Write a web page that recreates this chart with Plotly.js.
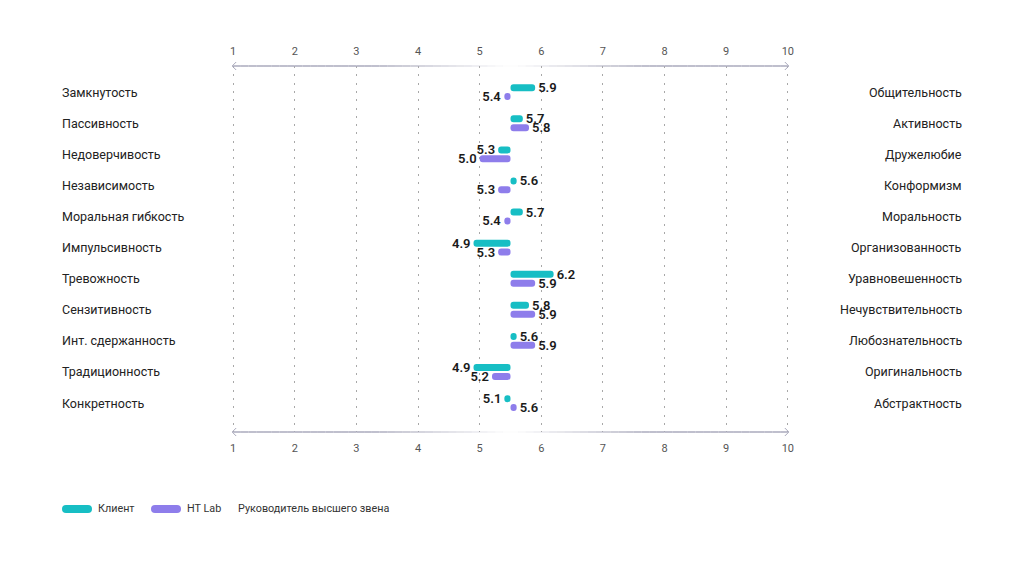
<!DOCTYPE html>
<html><head><meta charset="utf-8">
<script src="https://cdn.plot.ly/plotly-3.0.1.min.js"></script>
<style>html,body{margin:0;padding:0;background:#fff}#chart{width:1024px;height:575px}</style>
</head><body><div id="chart"></div>
<script>
const leftLabels = ["Замкнутость","Пассивность","Недоверчивость","Независимость","Моральная гибкость","Импульсивность","Тревожность","Сензитивность","Инт. сдержанность","Традиционность","Конкретность"];
const rightLabels = ["Общительность","Активность","Дружелюбие","Конформизм","Моральность","Организованность","Уравновешенность","Нечувствительность","Любознательность","Оригинальность","Абстрактность"];
// bar ends as drawn in the reference
const clientValues = [5.9,5.7,5.3,5.6,5.7,4.9,6.2,5.8,5.6,4.9,5.4];
const htlabValues  = [5.4,5.8,5.0,5.3,5.4,5.3,5.9,5.9,5.9,5.2,5.6];
// value labels as printed in the reference
const clientLabels = ["5.9","5.7","5.3","5.6","5.7","4.9","6.2","5.8","5.6","4.9","5.1"];
const htlabLabels  = ["5.4","5.8","5.0","5.3","5.4","5.3","5.9","5.9","5.9","5.2","5.6"];
const scaleTicks = [1,2,3,4,5,6,7,8,9,10];
const midPoint = 5.5;
const legendNames = ["Клиент","HT Lab","Руководитель высшего звена"];

const TEAL = '#17BEC4', PURPLE = '#8E7DEB';
const M = {l:227, r:230, t:66, b:143};
const W = 1024 - M.l - M.r, H = 575 - M.t - M.b;
const pxX = p => (p - M.l) / W;
const pxY = p => (575 - M.b - p) / H;

function barTrace(vals, labels, color, offset, name){
  return {
    type:'bar', orientation:'h', name:name, showlegend:false,
    y: leftLabels, x: vals.map(v => v - midPoint), base: midPoint,
    offset: offset, width: 0.225,
    marker:{color:color, cornerradius:4, line:{width:0}},
    text: labels, textposition:'outside',
    constraintext:'none', cliponaxis:false,
    textfont:{family:'Roboto', size:13, color:'#1a1a1a', weight:600},
    hoverinfo:'skip'
  };
}
const traces = [
  barTrace(clientValues, clientLabels, TEAL, -0.255, legendNames[0]),
  barTrace(htlabValues, htlabLabels, PURPLE, 0.03, legendNames[1]),
  {type:'scatter', x:[null], y:[null], xaxis:'x2', showlegend:false, hoverinfo:'skip'}
];

const shapes = [];
const step = 0.125;
for (let a = scaleTicks[0]; a < scaleTicks[scaleTicks.length-1] - 1e-9; a += step) {
  const m = a + step/2;
  const op = Math.min(1, Math.abs(m - midPoint) / 2.2);
  [1, 0].forEach(yy => shapes.push({type:'line', xref:'x', yref:'paper', x0:a, x1:a+step, y0:yy, y1:yy,
    line:{color:'rgba(170,170,188,'+op.toFixed(3)+')', width:1.5}, layer:'above'}));
}
[1,0].forEach(yy => {
  shapes.push({type:'path', xref:'x', yref:'paper', xsizemode:'pixel', ysizemode:'pixel', xanchor:scaleTicks[0], yanchor:yy,
    path:'M 3,4 L -1,0 L 3,-4', line:{color:'#aaaabc', width:1}});
  shapes.push({type:'path', xref:'x', yref:'paper', xsizemode:'pixel', ysizemode:'pixel', xanchor:scaleTicks[scaleTicks.length-1], yanchor:yy,
    path:'M -3,4 L 1,0 L -3,-4', line:{color:'#aaaabc', width:1}});
});
const pill = 'M -11,-4 L 11,-4 Q 15,-4 15,0 Q 15,4 11,4 L -11,4 Q -15,4 -15,0 Q -15,-4 -11,-4 Z';
[[77, TEAL],[166, PURPLE]].forEach(([cx,c]) => shapes.push({type:'path', xref:'paper', yref:'paper', xsizemode:'pixel', ysizemode:'pixel',
  xanchor:pxX(cx), yanchor:pxY(509), path:pill, fillcolor:c, line:{width:0}}));

const annotations = [];
leftLabels.forEach((t,i) => annotations.push({xref:'paper', yref:'y', x:pxX(60), y:t, text:t, showarrow:false, xanchor:'left', yanchor:'middle',
  font:{family:'Roboto', size:12.5, color:'#222'}}));
rightLabels.forEach((t,i) => annotations.push({xref:'paper', yref:'y', x:pxX(964), y:leftLabels[i], text:t, showarrow:false, xanchor:'right', yanchor:'middle',
  font:{family:'Roboto', size:12.5, color:'#222'}}));
[[96,legendNames[0]],[185,legendNames[1]],[236,legendNames[2]]].forEach(([px,t]) => annotations.push({xref:'paper', yref:'paper', x:pxX(px), y:pxY(509),
  text:t, showarrow:false, xanchor:'left', yanchor:'middle', font:{family:'Roboto', size:10.8, color:'#333'}}));

const axisCommon = {range:[0.9,10.1], tickvals:scaleTicks, ticks:'', zeroline:false, showline:false,
  tickfont:{family:'Roboto', size:11, color:'#555'}, ticklabelstandoff:8, fixedrange:true};
const layout = {
  width:1024, height:575, margin:M, paper_bgcolor:'#fff', plot_bgcolor:'#fff',
  barmode:'overlay', showlegend:false, font:{family:'Roboto'},
  xaxis: Object.assign({}, axisCommon, {side:'bottom', showgrid:true, gridcolor:'#a8a8a8', griddash:'2px,6.3px', gridwidth:1}),
  xaxis2: Object.assign({}, axisCommon, {side:'top', overlaying:'x', matches:'x', showgrid:false}),
  yaxis: {type:'category', categoryarray:leftLabels, range:[10.93,-0.84], showticklabels:false, showgrid:false, zeroline:false, fixedrange:true},
  shapes:shapes, annotations:annotations
};
Plotly.newPlot('chart', traces, layout, {displayModeBar:false, staticPlot:true});
</script></body></html>
